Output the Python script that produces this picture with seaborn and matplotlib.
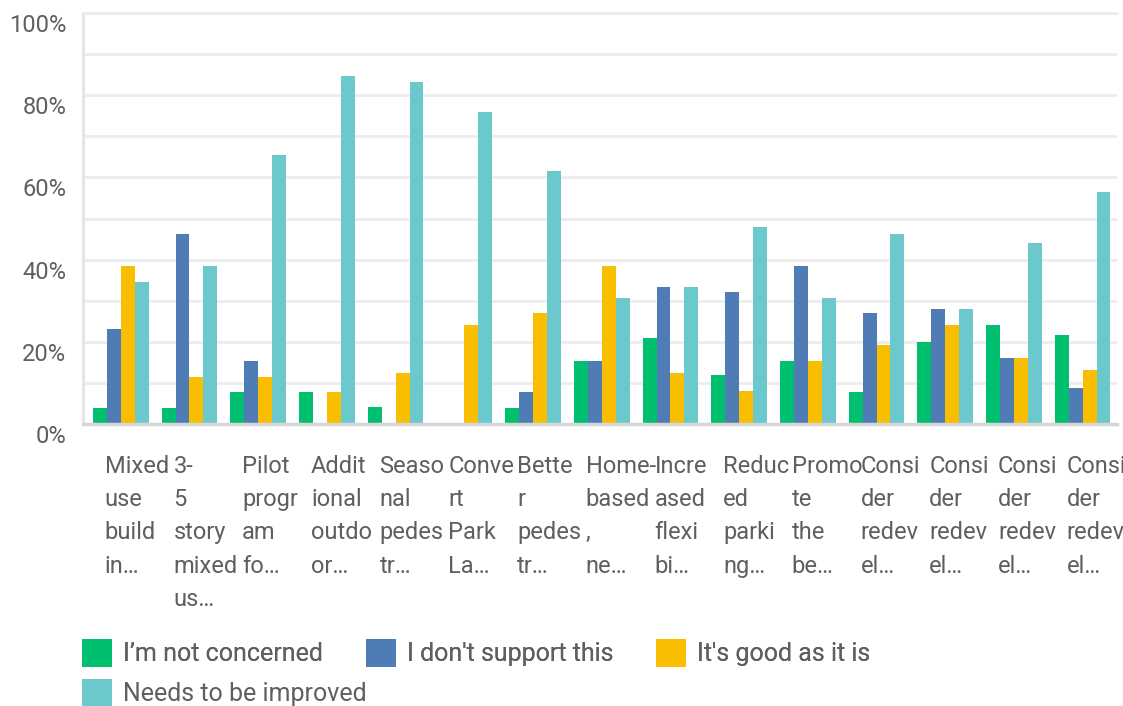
import pandas as pd
import numpy as np
import matplotlib.pyplot as plt
import matplotlib.transforms as mtransforms
from matplotlib.patches import Patch
import seaborn as sns

# labels as shown under the bars (already cut by the survey tool)
item_labels = [
    "Mixed\nuse\nbuild\nin…",
    "3-\n5\nstory\nmixed\nus…",
    "Pilot\nprogr\nam\nfo…",
    "Addit\nional\noutdo\nor…",
    "Seaso\nnal\npedes\ntr…",
    "Conve\nrt\nPark\nLa…",
    "Bette\nr\npedes\ntr…",
    "Home-\nbased\n,\nne…",
    "Incre\nased\nflexi\nbi…",
    "Reduc\ned\nparki\nng…",
    "Promo\nte\nthe\nbe…",
    "Consi\nder\nredev\nel…",
    "Consi\nder\nredev\nel…",
    "Consi\nder\nredev\nel…",
    "Consi\nder\nredev\nel…",
]
responses = ["I’m not concerned", "I don't support this", "It's good as it is", "Needs to be improved"]

# percent of answers per item
not_concerned = [3.85, 3.85, 7.69, 7.69, 4.17, 0, 3.85, 15.38, 20.83, 12, 15.38, 7.69, 20, 24, 21.74]
dont_support = [23.08, 46.15, 15.38, 0, 0, 0, 7.69, 15.38, 33.33, 32, 38.46, 26.92, 28, 16, 8.70]
good_as_is = [38.46, 11.54, 11.54, 7.69, 12.5, 24, 26.92, 38.46, 12.5, 8, 15.38, 19.23, 24, 16, 13.04]
needs_improved = [34.62, 38.46, 65.38, 84.62, 83.33, 76, 61.54, 30.77, 33.33, 48, 30.77, 46.15, 28, 44, 56.52]

colors = ["#00BF6F", "#507CB6", "#F9BE00", "#6BC8CD"]
text_color = "#5f5f5f"

rows = []
for resp, vals in zip(responses, [not_concerned, dont_support, good_as_is, needs_improved]):
    for i, v in enumerate(vals):
        rows.append({"item": i, "response": resp, "pct": v})
df = pd.DataFrame(rows)

sns.set_style("white")
plt.rcParams["font.family"] = ["Roboto", "DejaVu Sans"]

fig = plt.figure(figsize=(11.23, 7.06), dpi=100)
ax = fig.add_axes([83 / 1123, 1 - 424 / 706, (1117 - 83) / 1123, (424 - 13) / 706])

sns.barplot(data=df, x="item", y="pct", hue="response", hue_order=responses,
            palette=colors, width=0.81, gap=0, saturation=1, legend=False, ax=ax,
            errorbar=None, linewidth=0)

ax.set_xlim(-0.55, 14.5)
ax.set_ylim(0, 100)
ax.set_yticks(np.arange(0, 101, 10), minor=False)
ax.set_yticklabels([f"{v}%" if v % 20 == 0 else "" for v in range(0, 101, 10)])
ax.yaxis.grid(True, color="#ececec", linewidth=2)
ax.set_axisbelow(True)
ax.set_xlabel("")
ax.set_ylabel("")

ax.spines["right"].set_visible(False)
ax.spines["top"].set_color("#ececec")
ax.spines["top"].set_linewidth(2)
ax.spines["left"].set_color("#e4e4e4")
ax.spines["left"].set_linewidth(2)
ax.spines["bottom"].set_color("#d6d6d6")
ax.spines["bottom"].set_linewidth(2.5)

ax.tick_params(axis="y", length=0, pad=12, labelsize=17, labelcolor=text_color)
ax.tick_params(axis="x", length=0, pad=22, labelsize=17, labelcolor=text_color)

ax.set_xticks(range(len(item_labels)))
ax.set_xticklabels(item_labels, ha="left", va="top", linespacing=1.58)
dx = mtransforms.ScaledTranslation(-0.16, 0, fig.dpi_scale_trans)
for lbl in ax.get_xticklabels():
    lbl.set_transform(lbl.get_transform() + dx)
dy = mtransforms.ScaledTranslation(0, -0.10, fig.dpi_scale_trans)
for lbl in ax.get_yticklabels():
    lbl.set_transform(lbl.get_transform() + dy)

handles = [Patch(facecolor=c, edgecolor="none", label=r) for c, r in zip(colors, responses)]
leg_kw = dict(frameon=False, fontsize=18, handlelength=1.2, handleheight=1.35,
              handletextpad=0.45, columnspacing=1.7, borderpad=0, borderaxespad=0,
              labelcolor=text_color)
leg1 = fig.legend(handles=handles[:3], loc="upper left", bbox_to_anchor=(82 / 1123, 1 - 639 / 706),
                  ncol=3, **leg_kw)
fig.add_artist(leg1)
fig.legend(handles=handles[3:], loc="upper left", bbox_to_anchor=(82 / 1123, 1 - 679 / 706), **leg_kw)

fig.savefig("out.png", dpi=100)
